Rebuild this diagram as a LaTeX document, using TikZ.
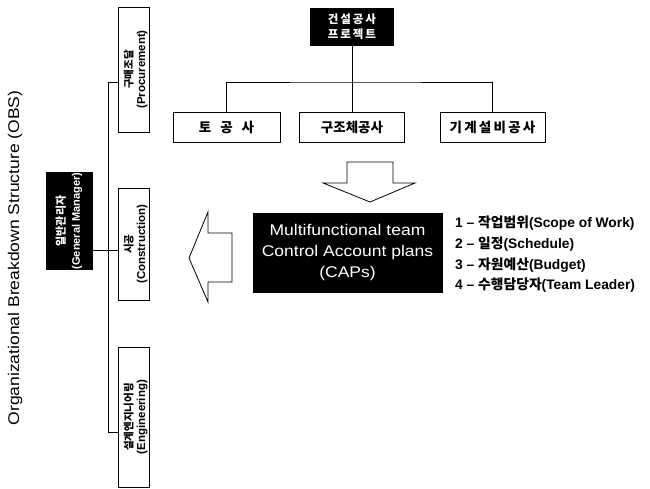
\documentclass[tikz,border=0pt]{standalone}
\usepackage{fontspec}
\setmainfont{Liberation Sans}
\newfontfamily\widesans{Liberation Sans}[FakeStretch=1.13]
\newfontfamily\krfont{Noto Sans CJK KR}
\newcommand\kor[1]{{\krfont #1}}
\begin{document}
\begin{tikzpicture}[x=1pt,y=-1pt,
  line/.style={draw, line width=0.8pt},
  box/.style={draw, line width=0.8pt, fill=white, inner sep=0pt, align=center,
    font=\bfseries\fontsize{13.5}{15}\selectfont},
  blackbox/.style={box, fill=black, text=white},
  vbox/.style={box, rotate=90, minimum height=31,
    font=\bfseries\fontsize{11.5}{12.5}\selectfont},
  blockarrow/.style={draw, line width=0.8pt, fill=white, line join=miter}
]
\useasboundingbox (0,0) rectangle (650,489);

% title
\node[rotate=90, font=\widesans\fontsize{15.5}{17}\selectfont] (title) at (15,258)
  {Organizational Breakdown Structure (OBS)};

% top tree
\node[blackbox, minimum width=83, minimum height=37,
  font=\bfseries\fontsize{11.5}{14.5}\selectfont] (proj) at (352,26.5)
  {\kor{건\,설\,공\,사}\\\kor{프\,로\,젝\,트}};
\node[box, minimum width=107, minimum height=30] (toh) at (226.5,127)
  {\kor{토\hspace{9pt}공\hspace{9pt}사}};
\node[box, minimum width=105, minimum height=30] (gu) at (352,127) {\kor{구조체공사}};
\node[box, minimum width=105, minimum height=30] (gi) at (492.5,127)
  {\kor{기\,계\,설\,비\,공\,사}};
\coordinate (tbus) at (352,82);
\draw[line] (proj) -- (gu);
\draw[line] (toh.north) |- (tbus) -| (gi.north);

% left tree
\node[blackbox, rotate=90, minimum width=94, minimum height=46,
  font=\bfseries\fontsize{11}{15}\selectfont] (gm) at (69,221)
  {\kor{일반관리자}\\(General Manager)};
\node[vbox, minimum width=125] (proc) at (133.5,69.5)
  {\rule{0pt}{13pt}\kor{\fontsize{10.5}{12.5}\selectfont 구매조달}\\(Procurement)};
\node[vbox, minimum width=112] (cons) at (133.5,244)
  {\rule{0pt}{13pt}\kor{\fontsize{10.5}{12.5}\selectfont 시공}\\(Construction)};
\node[vbox, minimum width=140] (eng) at (133.5,417)
  {\rule{0pt}{13pt}\kor{\fontsize{10.5}{12.5}\selectfont 설계엔지니어링}\\(Engineering)};
\coordinate (bp) at (108,82);
\coordinate (bg) at (108,250);
\coordinate (be) at (108,432);
\draw[line] (bp -| proc.north) -- (bp) -- (be) -- (be -| eng.north);
\draw[line] (bg -| gm.south) -- (bg -| cons.north);

% CAPs
\node[blackbox, minimum width=189, minimum height=79,
  font=\widesans\fontsize{15.5}{21}\selectfont] (caps) at (347.5,252.5)
  {Multifunctional team\\Control Account plans\\(CAPs)};
\node[anchor=north west, align=left, inner sep=0pt,
  font=\bfseries\fontsize{13.8}{20.7}\selectfont] (list) at (455,216)
  {1 -- \kor{작업범위}(Scope of Work)\\
   2 -- \kor{일정}(Schedule)\\
   3 -- \kor{자원예산}(Budget)\\
   4 -- \kor{수행담당자}(Team Leader)};

% block arrows
\draw[blockarrow] (347,162) -- (393,162) -- (393,183) -- (415,183) -- (370,202)
  -- (323,183) -- (347,183) -- cycle;
\draw[blockarrow] (232,233) -- (208,233) -- (208,212) -- (189,258) -- (208,302)
  -- (208,282) -- (232,282) -- cycle;
\end{tikzpicture}
\end{document}
